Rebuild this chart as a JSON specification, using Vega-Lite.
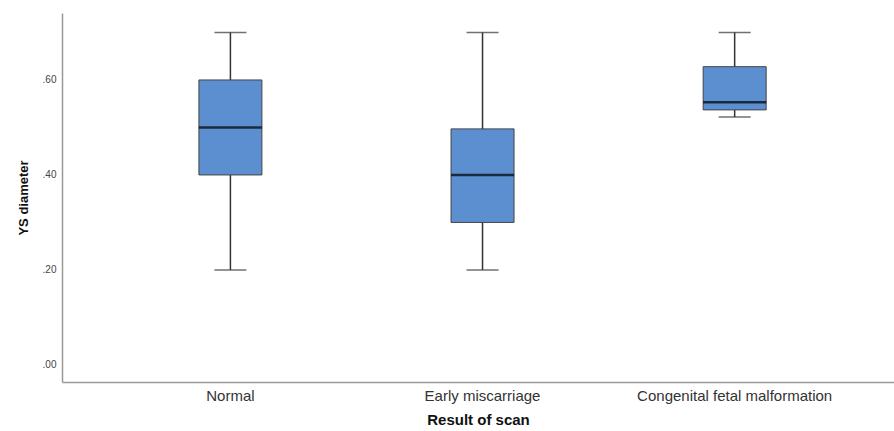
{
  "$schema": "https://vega.github.io/schema/vega-lite/v6.json",
  "autosize": {"type": "none"},
  "padding": {"left": 62, "top": 13, "right": 0, "bottom": 49},
  "width": 832,
  "height": 369,
  "background": "white",
  "config": {
    "view": {"stroke": null},
    "font": "Liberation Sans"
  },
  "data": {
    "values": [
      {"scan": "Normal", "min": 0.2, "q1": 0.4, "median": 0.5, "q3": 0.6, "max": 0.7},
      {"scan": "Early miscarriage", "min": 0.2, "q1": 0.3, "median": 0.4, "q3": 0.497, "max": 0.7},
      {"scan": "Congenital fetal malformation", "min": 0.522, "q1": 0.537, "median": 0.553, "q3": 0.628, "max": 0.7}
    ]
  },
  "encoding": {
    "x": {
      "field": "scan",
      "type": "nominal",
      "sort": null,
      "scale": {"type": "band", "paddingInner": 0, "paddingOuter": 0.15, "align": 0.56},
      "axis": {
        "title": "Result of scan",
        "titleFontSize": 15,
        "titleFontWeight": "bold",
        "titleColor": "#111",
        "titlePadding": 9,
        "labelAngle": 0,
        "labelFontSize": 15,
        "labelLimit": 400,
        "labelOverlap": false,
        "labelColor": "#333",
        "labelPadding": 6,
        "ticks": false,
        "domainColor": "#999",
        "domainWidth": 1.5,
        "grid": false
      }
    }
  },
  "layer": [
    {
      "mark": {"type": "rule", "color": "#333", "strokeWidth": 1.5},
      "encoding": {
        "y": {
          "field": "min",
          "type": "quantitative",
          "scale": {"domain": [-0.036, 0.741], "nice": false, "zero": false},
          "axis": {
            "title": "YS diameter",
            "titleFontSize": 13,
            "titleFontWeight": "bold",
            "titleColor": "#111",
            "titlePadding": 12,
            "values": [0, 0.2, 0.4, 0.6],
            "labelExpr": "replace(format(datum.value, '.2f'), '0.', '.')",
            "labelFontSize": 10,
            "labelColor": "#444",
            "labelPadding": 6,
            "ticks": false,
            "grid": false,
            "domainColor": "#999",
            "domainWidth": 1.5
          }
        },
        "y2": {"field": "max"}
      }
    },
    {
      "mark": {"type": "bar", "size": 63, "color": "#5b8fd0", "stroke": "#444", "strokeWidth": 1},
      "encoding": {
        "y": {"field": "q1", "type": "quantitative"},
        "y2": {"field": "q3"}
      }
    },
    {
      "mark": {"type": "tick", "size": 63, "thickness": 2.5, "color": "#000"},
      "encoding": {"y": {"field": "median", "type": "quantitative"}}
    },
    {
      "mark": {"type": "tick", "size": 32, "thickness": 1.5, "color": "#333"},
      "encoding": {"y": {"field": "min", "type": "quantitative"}}
    },
    {
      "mark": {"type": "tick", "size": 32, "thickness": 1.5, "color": "#333"},
      "encoding": {"y": {"field": "max", "type": "quantitative"}}
    }
  ]
}
